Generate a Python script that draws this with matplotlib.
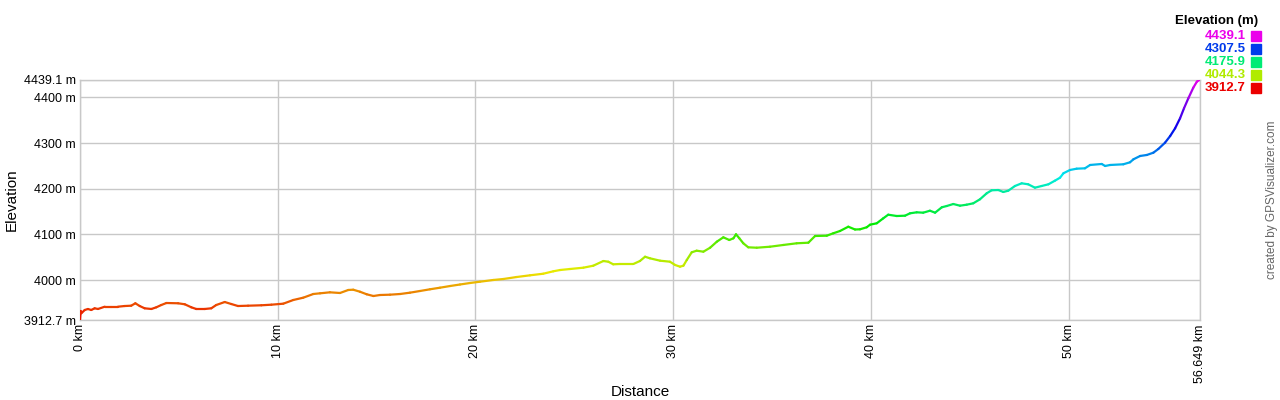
import numpy as np
import matplotlib
matplotlib.use("Agg")
import matplotlib.pyplot as plt
from matplotlib.collections import LineCollection
from matplotlib.colors import hsv_to_rgb, LinearSegmentedColormap, Normalize

distance_km = [0, 0.035, 0.066, 0.24, 0.40, 0.57, 0.74, 0.91, 1.25, 1.58, 1.92, 2.26, 2.59, 2.80, 3.02,
               3.27, 3.61, 3.86, 4.11, 4.37, 4.96, 5.30, 5.63, 5.88, 6.31, 6.64, 6.89, 7.32, 7.65, 7.99,
               8.50, 9.17, 9.68, 10.28, 10.79, 11.29, 11.80, 12.14, 12.64, 13.15, 13.57, 13.82, 14.16,
               14.50, 14.84, 15.17, 15.68, 16.19, 16.69, 17.20, 17.70, 18.21, 18.72, 19.22, 19.73, 20.23,
               20.91, 21.41, 22.09, 22.76, 23.43, 23.94, 24.28, 24.78, 25.46, 25.96, 26.47, 26.72, 26.97,
               27.31, 27.99, 28.32, 28.58, 28.83, 29.34, 29.84, 30.10, 30.35, 30.52, 30.69, 30.94, 31.19,
               31.53, 31.87, 32.21, 32.54, 32.84, 33.05, 33.18, 33.35, 33.55, 33.80, 34.23, 34.90, 35.57,
               36.25, 36.84, 37.18, 37.77, 38.10, 38.44, 38.86, 39.20, 39.45, 39.79, 39.96, 40.30, 40.63,
               40.88, 41.31, 41.73, 41.98, 42.32, 42.65, 42.99, 43.25, 43.59, 43.84, 44.17, 44.51, 44.85,
               45.18, 45.52, 45.86, 46.11, 46.45, 46.70, 46.95, 47.29, 47.63, 47.96, 48.30, 48.64, 48.98,
               49.31, 49.57, 49.74, 50.07, 50.41, 50.83, 51.09, 51.68, 51.85, 52.10, 52.77, 53.11, 53.28,
               53.62, 53.96, 54.29, 54.54, 54.88, 55.14, 55.39, 55.64, 55.84, 56.06, 56.31, 56.49, 56.649]
elevation_m = [3912.7, 3932.4, 3927.4, 3934.6, 3936.8, 3934.6, 3938.3, 3936.8, 3941.8, 3941.8, 3941.8,
               3943.3, 3944.0, 3949.3, 3943.3, 3938.3, 3936.8, 3940.5, 3945.5, 3949.9, 3949.3, 3947.1,
               3940.5, 3936.8, 3936.8, 3938.3, 3945.5, 3952.1, 3947.7, 3943.3, 3944.0, 3944.9, 3946.2,
               3948.4, 3956.5, 3961.5, 3969.6, 3971.1, 3973.3, 3971.8, 3978.4, 3979.0, 3974.6, 3969.0,
               3965.2, 3967.4, 3968.1, 3969.6, 3972.5, 3976.2, 3979.9, 3983.4, 3987.1, 3990.4, 3993.7,
               3996.5, 4000.3, 4002.4, 4006.8, 4010.5, 4014.0, 4019.3, 4022.1, 4024.3, 4027.2, 4031.5,
               4041.8, 4040.3, 4034.6, 4035.3, 4035.3, 4041.8, 4051.2, 4047.7, 4042.5, 4040.3, 4033.1,
               4029.4, 4031.6, 4044.0, 4060.9, 4064.4, 4062.2, 4070.9, 4084.1, 4093.7, 4087.8, 4091.5,
               4100.3, 4091.5, 4080.6, 4071.8, 4070.9, 4073.1, 4076.9, 4080.6, 4081.9, 4096.6, 4097.2,
               4102.5, 4107.5, 4116.9, 4110.8, 4111.2, 4115.6, 4121.3, 4124.4, 4135.3, 4143.2, 4140.3,
               4141.0, 4146.2, 4148.4, 4147.6, 4151.9, 4147.6, 4159.4, 4162.2, 4166.6, 4162.9, 4165.1,
               4168.1, 4176.9, 4190.0, 4196.6, 4197.2, 4192.9, 4195.7, 4206.0, 4211.9, 4209.7, 4202.3,
               4206.0, 4209.7, 4217.6, 4224.2, 4233.8, 4241.0, 4243.9, 4244.7, 4252.0, 4254.2, 4249.8,
               4252.0, 4253.5, 4257.9, 4264.4, 4271.7, 4273.9, 4278.9, 4287.0, 4300.8, 4315.4, 4332.3,
               4354.2, 4376.1, 4398.0, 4421.2, 4434.3, 4439.1]

y_ticks = [3912.7, 4000, 4100, 4200, 4300, 4400, 4439.1]
y_tick_labels = ["3912.7 m", "4000 m", "4100 m", "4200 m", "4300 m", "4400 m", "4439.1 m"]
x_ticks = [0, 10, 20, 30, 40, 50, 56.649]
x_tick_labels = ["0 km", "10 km", "20 km", "30 km", "40 km", "50 km", "56.649 km"]
legend_values = ["4439.1", "4307.5", "4175.9", "4044.3", "3912.7"]
legend_fracs = [1.0, 0.75, 0.5, 0.25, 0.0]

plt.rcParams['font.family'] = ['Liberation Sans', 'DejaVu Sans']

def hue_color(f):
    return hsv_to_rgb([f * 300 / 360, 1.0, 0.92])

cmap = LinearSegmentedColormap.from_list("elev", [hue_color(f) for f in np.linspace(0, 1, 61)])
ymin, ymax = 3912.7, 4439.1
norm = Normalize(ymin, ymax)

fig = plt.figure(figsize=(12.8, 4.0), dpi=100)
ax = fig.add_axes([80 / 1280, 80 / 400, 1120 / 1280, 240.5 / 400])

x = np.array(distance_km)
y = np.array(elevation_m)
pts = np.column_stack([x, y]).reshape(-1, 1, 2)
segs = np.concatenate([pts[:-1], pts[1:]], axis=1)
lc = LineCollection(segs, cmap=cmap, norm=norm, linewidth=1.6, capstyle='round', zorder=3)
lc.set_array((y[:-1] + y[1:]) / 2)
ax.add_collection(lc)

ax.set_xlim(0, 56.649)
ax.set_ylim(ymin, ymax)
ax.set_yticks(y_ticks)
ax.set_yticklabels(y_tick_labels, fontsize=9)
ax.set_xticks(x_ticks)
ax.set_xticklabels(x_tick_labels, fontsize=9, rotation=90)
ax.tick_params(length=0, pad=3, colors='#000000')
ax.grid(True, color='#c8c8c8', linewidth=1.0)
for s in ax.spines.values():
    s.set_color('#c8c8c8')
    s.set_linewidth(1.0)
ax.set_axisbelow(True)
ax.set_ylabel("Elevation", fontsize=11, va='center')
ax.yaxis.set_label_coords((12 - 80) / 1120, 0.5)
ax.set_xlabel("Distance", fontsize=11, va='center')
ax.xaxis.set_label_coords(0.5, (320 - 392) / 240.5)

# legend
fig.text(1258 / 1280, 1 - 21 / 400, "Elevation (m)", ha='right', va='center',
         fontsize=9.5, fontweight='bold', color='black')
for i, (v, f) in enumerate(zip(legend_values, legend_fracs)):
    yc = 1 - (36 + 13 * i) / 400
    c = hue_color(f)
    fig.text(1246 / 1280, yc, v, ha='right', va='center', fontsize=9.5, fontweight='bold', color=c)
    fig.patches.append(plt.Rectangle((1251 / 1280, yc - 5 / 400), 10 / 1280, 10 / 400,
                                     transform=fig.transFigure, color=c, figure=fig))

fig.text(1272 / 1280, 1 - 200 / 400, "created by GPSVisualizer.com", rotation=90,
         ha='center', va='center', fontsize=8.5, color='#666666')

fig.savefig("out.png", dpi=100, facecolor='white')
